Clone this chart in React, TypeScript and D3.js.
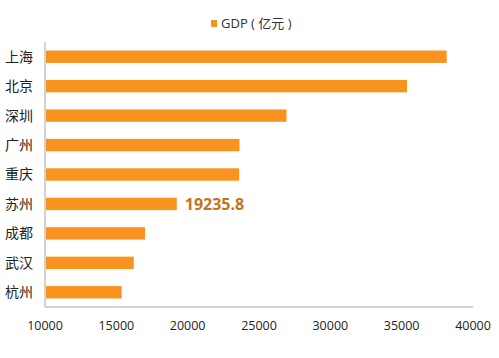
import React from "react";
import * as d3 from "d3";

const cities = ["上海", "北京", "深圳", "广州", "重庆", "苏州", "成都", "武汉", "杭州"];
const gdp = [38155, 35371, 26927, 23628, 23605, 19235.8, 17012, 16223, 15373];
const ticks = [10000, 15000, 20000, 25000, 30000, 35000, 40000];
const highlight = "苏州";

const App = () => {
  const width = 499;
  const height = 358;
  const left = 45;
  const right = 473;
  const top = 42;
  const bottom = 307;

  const x = d3.scaleLinear().domain([10000, 40000]).range([left, right]);
  const y = d3.scaleBand().domain(cities).range([top, bottom]).paddingInner(0.58).paddingOuter(0.29);

  const font = "'Open Sans', 'Noto Sans CJK SC', sans-serif";
  const barColor = "#F7931E";

  return (
    <svg
      width={width}
      height={height}
      style={{ position: "absolute", left: 0, top: 0, background: "#fff" }}
      fontFamily={font}
    >
      {/* legend */}
      <rect x={211} y={20} width={6} height={7} fill={barColor} />
      <text x={221} y={28} fontSize={13} fill="#333">
        GDP ( 亿元 )
      </text>

      {/* axes */}
      <line x1={left} x2={left} y1={top} y2={bottom} stroke="#a6a6a6" />
      <line x1={left} x2={right} y1={bottom} y2={bottom} stroke="#a6a6a6" />

      {ticks.map((t) => (
        <text key={t} x={x(t)} y={330} fontSize={12.5} textAnchor="middle" fill="#222">
          {t}
        </text>
      ))}

      {cities.map((c, i) => (
        <g key={c}>
          <rect
            x={x(10000) + 1}
            y={y(c)!}
            width={x(gdp[i]) - x(10000) - 1}
            height={y.bandwidth()}
            fill={barColor}
          />
          <text
            x={33}
            y={y(c)! + y.bandwidth() / 2}
            dy="0.35em"
            fontSize={14}
            textAnchor="end"
            fill="#222"
            fontFamily="'Noto Sans CJK SC', sans-serif"
          >
            {c}
          </text>
          {c === highlight && (
            <text
              x={x(gdp[i]) + 8}
              y={y(c)! + y.bandwidth() / 2}
              dy="0.36em"
              fontSize={16}
              fontWeight="bold"
              fill="#C0741E"
            >
              {gdp[i]}
            </text>
          )}
        </g>
      ))}
    </svg>
  );
};

export default App;
